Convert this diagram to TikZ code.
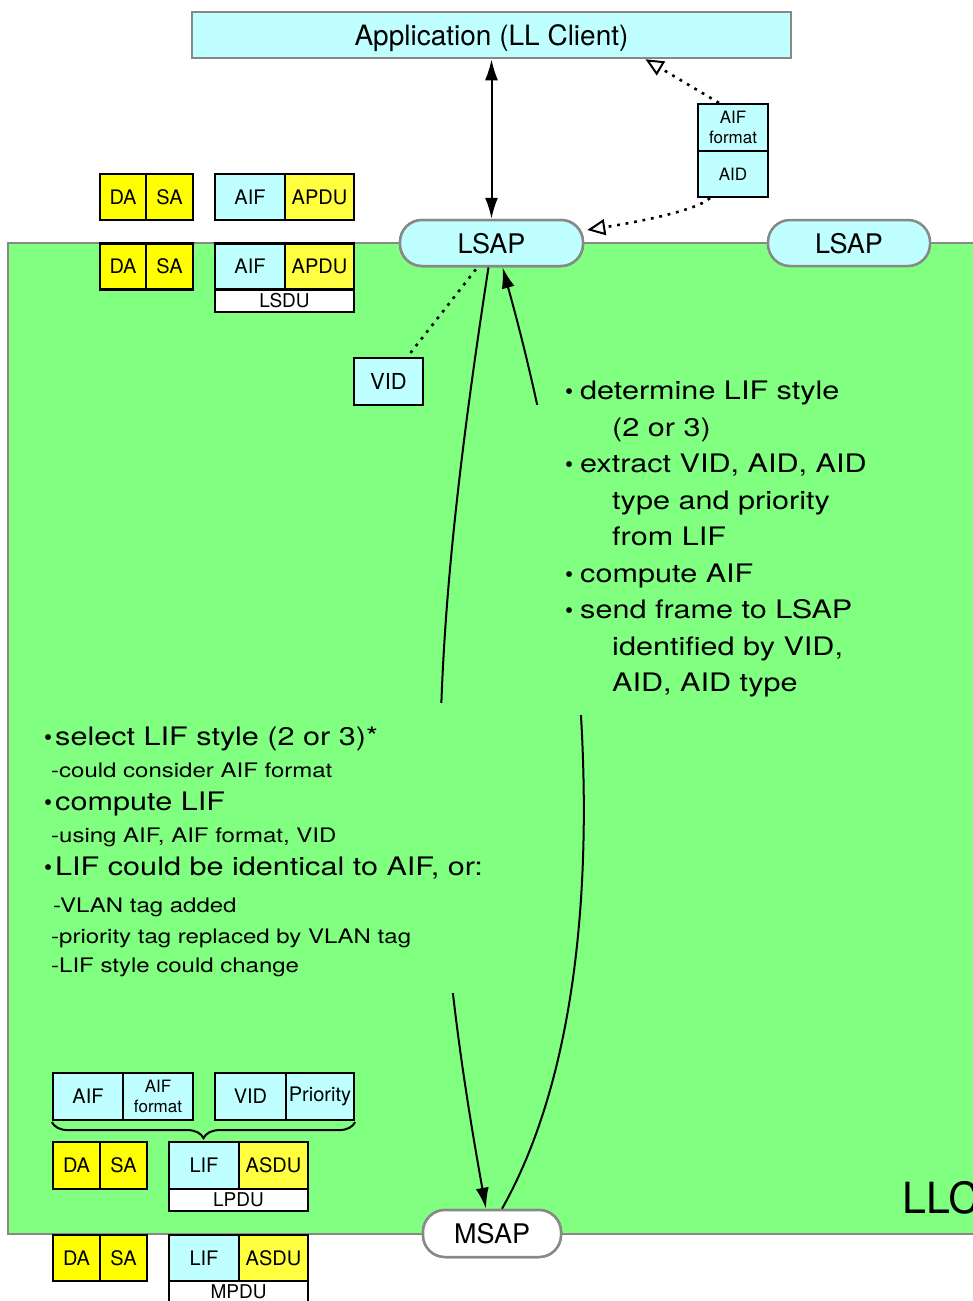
\documentclass[tikz,border=0pt]{standalone}
\usepackage{fontspec}
\setmainfont{TeX Gyre Heros}
\newfontfamily\widefont{TeX Gyre Heros}[FakeStretch=1.2]
\usetikzlibrary{arrows.meta,decorations.pathreplacing}
\definecolor{llcgreen}{HTML}{80FF80}
\definecolor{cyanbox}{HTML}{BFFFFF}
\definecolor{ylw}{HTML}{FFFF00}
\definecolor{ylwl}{HTML}{FFFF40}
\definecolor{gborder}{HTML}{888888}
\begin{document}
\begin{tikzpicture}[x=1pt,y=-1pt,
  fld/.style={draw=black,line width=2.2pt,inner sep=0pt,minimum height=46pt,font=\fontsize{20}{24}\selectfont},
  cy/.style={fld,fill=cyanbox},
  ye/.style={fld,fill=ylw},
  yl/.style={fld,fill=ylwl},
  wh/.style={fld,fill=white,minimum height=22pt,font=\fontsize{19}{22}\selectfont},
  sap/.style={draw=gborder,line width=2.5pt,rounded corners=22pt,minimum height=46pt,inner sep=0pt,text depth=0pt,font=\fontsize{27}{32}\selectfont},
  bigtxt/.style={anchor=base west,inner sep=0pt,font=\widefont\fontsize{25.5}{30}\selectfont},
  smalltxt/.style={anchor=base west,inner sep=0pt,font=\widefont\fontsize{20}{24}\selectfont},
  bul/.style={anchor=base west,inner sep=0pt,font=\fontsize{23}{26}\selectfont},
  dotline/.style={line width=2.6pt,dash pattern=on 2.8pt off 5.8pt},
  opentip/.style={-{Triangle[open,length=18pt,width=16pt,line width=2pt]}},
  solidtip/.style={-{Latex[length=21pt,width=13pt]}}
]
\useasboundingbox (0,0) rectangle (972,1301);

% LLC area
\draw[draw=gborder,line width=2.5pt,fill=llcgreen] (8,243) rectangle (1000,1234);
\node[anchor=base west,inner sep=0pt,font=\fontsize{43}{50}\selectfont] (llc) at (902,1213) {LLC};

% nodes needed for curves
\node[sap,fill=cyanbox,minimum width=183pt] (lsap1) at (491.5,243) {LSAP};
\node[sap,fill=white,minimum width=138pt,minimum height=47pt] (msap) at (492,1233.5) {MSAP};

% curves between LSAP and MSAP
\draw[line width=2pt,solidtip] ([xshift=-3pt]lsap1.south) .. controls (425,680) and (425,870) .. ([xshift=-6pt]msap.north);
\draw[line width=2pt,solidtip] ([xshift=10pt]msap.north) .. controls (620,1000) and (600,618) .. ([xshift=11pt]lsap1.south);

% gaps in curves behind the text blocks
\fill[llcgreen] (428,703) rectangle (472,993);
\fill[llcgreen] (522,405) rectangle (605,715);

% redraw SAP nodes on top
\node[sap,fill=cyanbox,minimum width=183pt] at (491.5,243) {LSAP};
\node[sap,fill=white,minimum width=138pt,minimum height=47pt] at (492,1233.5) {MSAP};
\node[sap,fill=cyanbox,minimum width=162pt] (lsap2) at (849,243) {LSAP};

% application
\node[draw=gborder,line width=2.5pt,fill=cyanbox,minimum width=599pt,minimum height=46pt,inner sep=0pt,text depth=0pt,font=\fontsize{28}{32}\selectfont] (app) at (491.5,35) {Application (LL Client)};

\draw[line width=2pt,{Latex[length=21pt,width=13pt]}-{Latex[length=21pt,width=13pt]}] (app.south) -- (lsap1.north);

% AIF format / AID
\node[cy,minimum width=70pt,minimum height=47pt,align=center,font=\fontsize{17}{20}\selectfont] (aiff) at (733,127.5) {AIF\\format};
\node[cy,minimum width=70pt,font=\fontsize{17}{20}\selectfont] (aid) at (733,174) {AID};
\draw[dotline,opentip] ([xshift=-14pt]aiff.north) -- ([xshift=154pt]app.south);
\draw[dotline,opentip] ([xshift=-23pt]aid.south) .. controls (695,212) and (625,224) .. ([yshift=13pt,xshift=3pt]lsap1.east);

% top-left frames
\node[ye,minimum width=46pt] (da1) at (123,197) {DA};
\node[ye,minimum width=47pt] (sa1) at (169.5,197) {SA};
\node[cy,minimum width=70pt] (aif1) at (250,197) {AIF};
\node[yl,minimum width=69pt] (apdu1) at (319.5,197) {APDU};

\node[ye,minimum width=46pt] (da2) at (123,266.5) {DA};
\node[ye,minimum width=47pt] (sa2) at (169.5,266.5) {SA};
\node[cy,minimum width=70pt] (aif2) at (250,266.5) {AIF};
\node[yl,minimum width=69pt] (apdu2) at (319.5,266.5) {APDU};
\node[wh,minimum width=139pt] (lsdu) at (284.5,301) {LSDU};

% VID
\node[cy,minimum width=69pt,minimum height=47pt,font=\fontsize{22}{26}\selectfont] (vid) at (388.5,381.5) {VID};
\draw[dotline] ([xshift=22pt,yshift=4pt]vid.north) -- ([xshift=-14pt]lsap1.south);

% right text block
\node[bul] (rb1) at (565,399) {•};
\node[bigtxt] (r1) at (580,399) {determine LIF style};
\node[bigtxt] (r2) at (612,436) {(2 or 3)};
\node[bul] (rb2) at (565,472) {•};
\node[bigtxt] (r3) at (580,472) {extract VID, AID, AID};
\node[bigtxt] (r4) at (612,509) {type and priority};
\node[bigtxt] (r5) at (612,545) {from LIF};
\node[bul] (rb3) at (565,582) {•};
\node[bigtxt] (r6) at (580,582) {compute AIF};
\node[bul] (rb4) at (565,618) {•};
\node[bigtxt] (r7) at (580,618) {send frame to LSAP};
\node[bigtxt] (r8) at (612,655) {identified by VID,};
\node[bigtxt] (r9) at (612,691) {AID, AID type};

% left text block
\node[bul] (lb1) at (44,745) {•};
\node[bigtxt] (l1) at (55,745) {select LIF style (2 or 3)*};
\node[smalltxt] (l2) at (51,777) {-could consider AIF format};
\node[bul] (lb2) at (44,810) {•};
\node[bigtxt] (l3) at (55,810) {compute LIF};
\node[smalltxt] (l4) at (51,842) {-using AIF, AIF format, VID};
\node[bul] (lb3) at (44,875) {•};
\node[bigtxt] (l5) at (55,875) {LIF could be identical to AIF, or:};
\node[smalltxt] (l6) at (53,912) {-VLAN tag added};
\node[smalltxt] (l7) at (51,943) {-priority tag replaced by VLAN tag};
\node[smalltxt] (l8) at (51,972) {-LIF style could change};

% bottom frames
\node[cy,minimum width=70pt,minimum height=47pt] (aif3) at (88,1096.5) {AIF};
\node[cy,minimum width=70pt,minimum height=47pt,align=center,font=\fontsize{17}{20}\selectfont] (aiffmt3) at (158,1096.5) {AIF\\format};
\node[cy,minimum width=71pt,minimum height=47pt] (vid3) at (250.5,1096.5) {VID};
\node[cy,minimum width=68pt,minimum height=47pt] (prio3) at (320,1096.5) {Priority};
\draw[line width=2pt,decorate,decoration={brace,amplitude=16pt}] ([yshift=-1pt]prio3.south east) -- ([yshift=-1pt]aif3.south west);

\node[ye,minimum width=47pt,minimum height=47pt] (da4) at (76.5,1165.5) {DA};
\node[ye,minimum width=47pt,minimum height=47pt] (sa4) at (123.5,1165.5) {SA};
\node[cy,minimum width=70pt,minimum height=47pt] (lif4) at (204,1165.5) {LIF};
\node[yl,minimum width=69pt,minimum height=47pt] (asdu4) at (273.5,1165.5) {ASDU};
\node[wh,minimum width=139pt] (lpdu) at (238.5,1200) {LPDU};

\node[ye,minimum width=47pt] (da5) at (76.5,1258) {DA};
\node[ye,minimum width=47pt] (sa5) at (123.5,1258) {SA};
\node[cy,minimum width=70pt] (lif5) at (204,1258) {LIF};
\node[yl,minimum width=69pt] (asdu5) at (273.5,1258) {ASDU};
\node[wh,minimum width=139pt] (mpdu) at (238.5,1292) {MPDU};
\end{tikzpicture}
\end{document}
